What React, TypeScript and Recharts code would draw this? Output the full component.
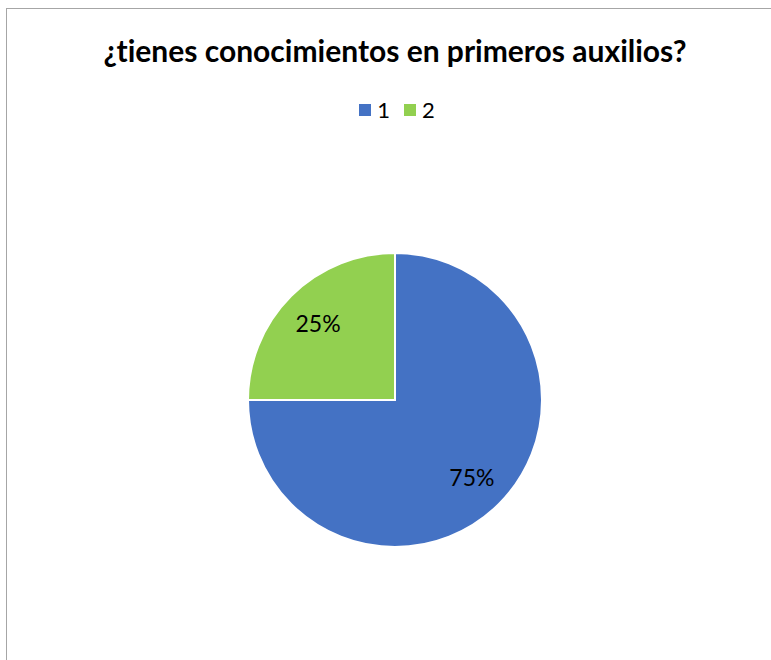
import React from "react";
import { PieChart, Pie, Cell } from "recharts";

const categories = ["1", "2"];
const values = [75, 25];
const colors = ["#4472C4", "#92D050"];
const title = "¿tienes conocimientos en primeros auxilios?";

const data = categories.map((name, i) => ({ name, value: values[i] }));
const total = values.reduce((a, b) => a + b, 0);
const FONT = "Lato, 'Open Sans', sans-serif";

const RAD = Math.PI / 180;
const renderLabel = (props: any) => {
  const { cx, cy, midAngle, outerRadius, value } = props;
  const r = outerRadius * 0.74;
  const x = cx + r * Math.cos(-midAngle * RAD);
  const y = cy + r * Math.sin(-midAngle * RAD);
  return (
    <text
      x={x}
      y={y}
      textAnchor="middle"
      dominantBaseline="central"
      fill="#000"
      style={{ fontFamily: FONT, fontSize: 23 }}
    >
      {`${Math.round((value / total) * 100)}%`}
    </text>
  );
};

export default function App() {
  return (
    <div style={{ position: "absolute", left: 0, top: 0, width: 771, height: 660, overflow: "hidden", background: "#fff" }}>
      <div style={{ position: "absolute", left: 6, top: 8, width: 900, height: 900, border: "1px solid #a6a6a6", boxSizing: "border-box" }} />
      <div
        style={{
          position: "absolute",
          left: 0,
          top: 30,
          width: 790,
          textAlign: "center",
          fontFamily: FONT,
          fontWeight: 700,
          fontSize: 30,
          lineHeight: "40px",
          color: "#000",
          fontVariantLigatures: "none",
          fontFeatureSettings: "'liga' 0, 'clig' 0",
        }}
      >
        {title}
      </div>
      <div
        style={{
          position: "absolute",
          left: 0,
          top: 96,
          width: 794,
          display: "flex",
          justifyContent: "center",
          alignItems: "center",
          fontFamily: FONT,
          fontSize: 22,
          lineHeight: "28px",
          color: "#000",
        }}
      >
        {categories.map((c, i) => (
          <span key={c} style={{ display: "inline-flex", alignItems: "center", marginRight: i === 0 ? 14 : 0 }}>
            <span style={{ display: "inline-block", width: 12, height: 12, background: colors[i], marginRight: 6 }} />
            {c}
          </span>
        ))}
      </div>
      <div style={{ position: "absolute", left: 0, top: 0 }}>
        <PieChart width={771} height={660} margin={{ top: 0, right: 0, bottom: 0, left: 0 }}>
          <Pie
            data={data}
            dataKey="value"
            nameKey="name"
            cx={395}
            cy={400}
            outerRadius={147}
            startAngle={90}
            endAngle={-270}
            stroke="#fff"
            strokeWidth={2}
            label={renderLabel}
            labelLine={false}
            isAnimationActive={false}
          >
            {data.map((d, i) => (
              <Cell key={d.name} fill={colors[i]} />
            ))}
          </Pie>
        </PieChart>
      </div>
    </div>
  );
}
